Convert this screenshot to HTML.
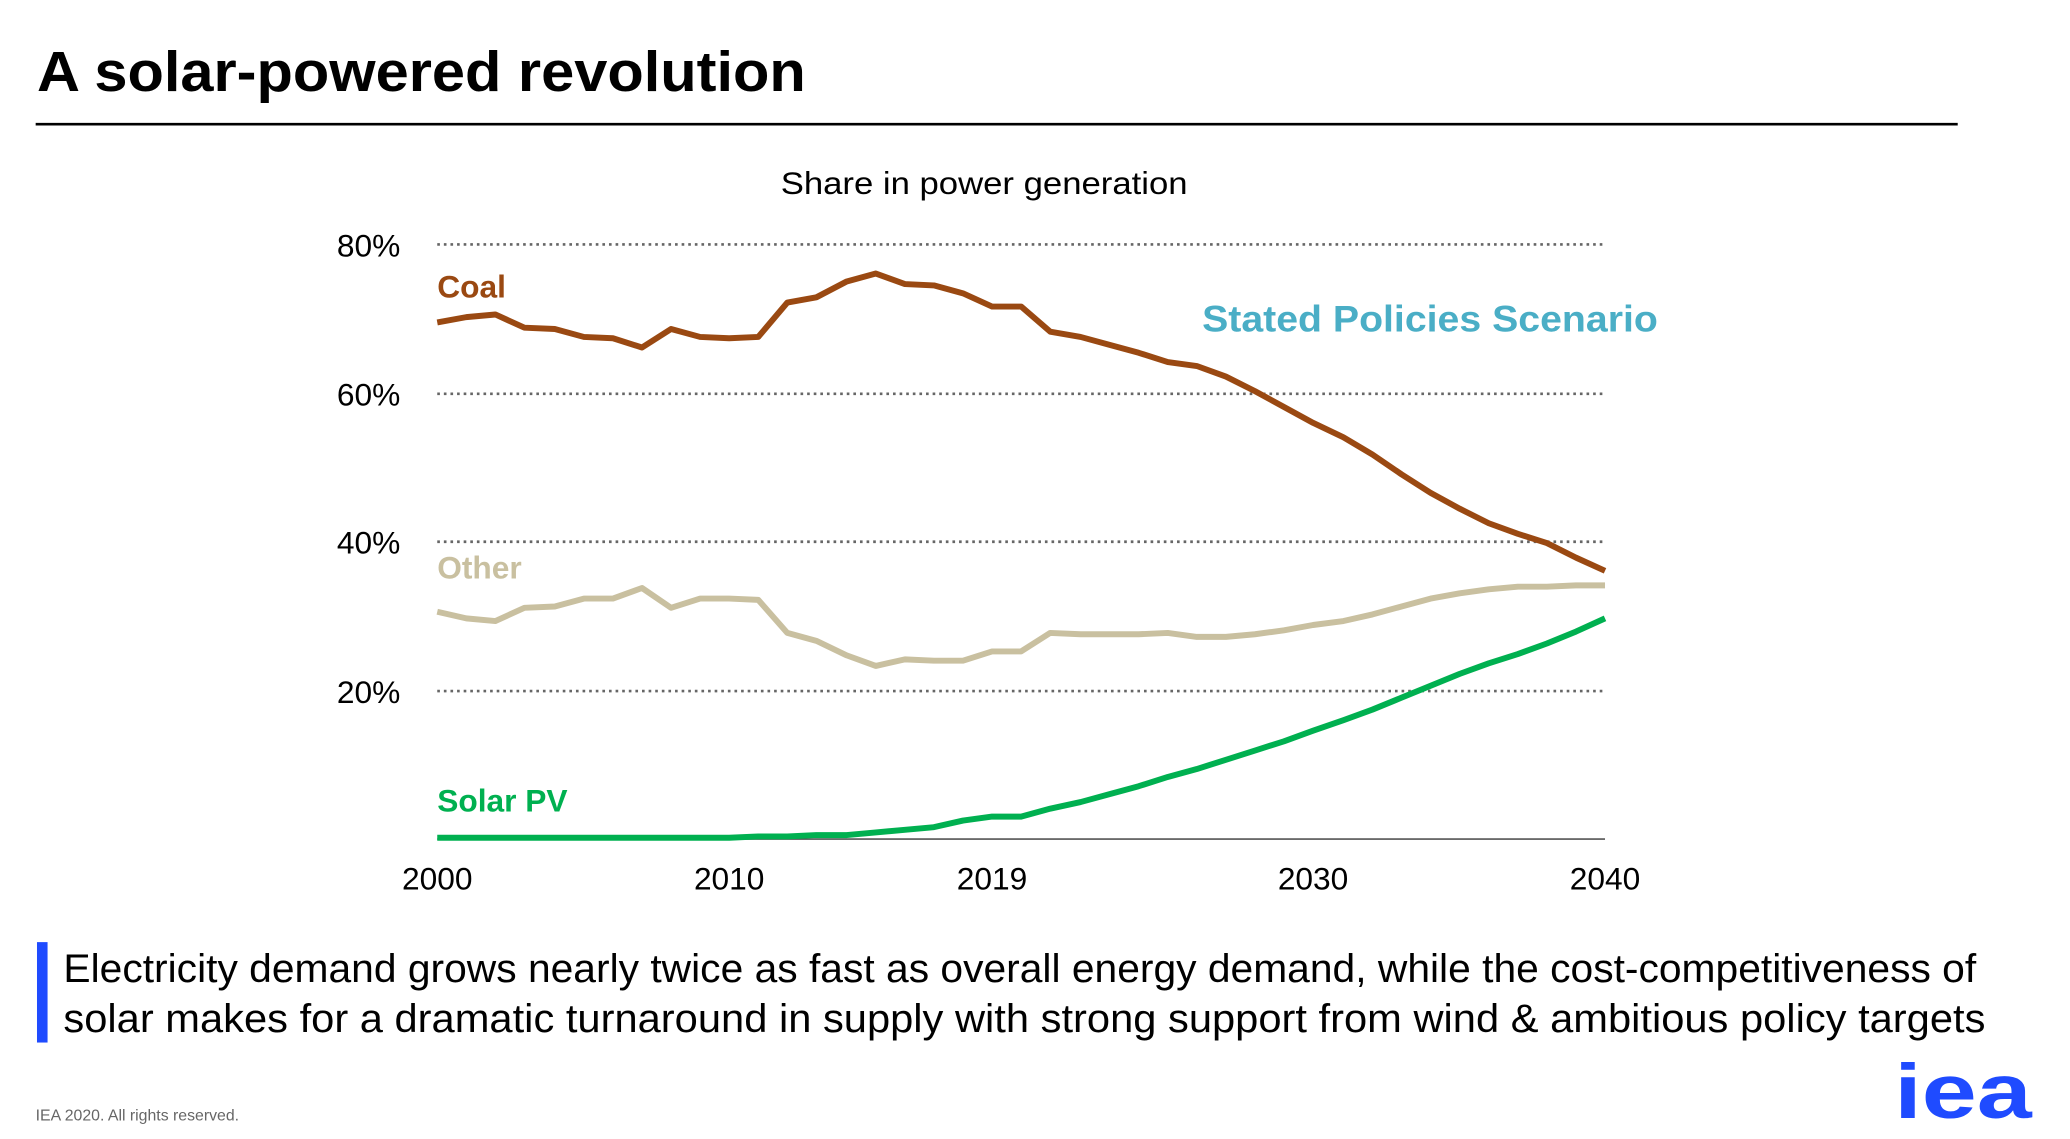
<!DOCTYPE html>
<html><head><meta charset="utf-8"><style>html,body{margin:0;padding:0;background:#fff}svg{display:block}</style></head>
<body>
<svg width="2070" height="1139" viewBox="0 0 1567 862" preserveAspectRatio="none" xmlns="http://www.w3.org/2000/svg" font-family="Liberation Sans, sans-serif">
<rect width="1567" height="862" fill="#fff"/>
<text x="28" y="69" font-size="43" font-weight="bold" fill="#000" textLength="582" lengthAdjust="spacingAndGlyphs">A solar-powered revolution</text>
<line x1="27" y1="94" x2="1482" y2="94" stroke="#000" stroke-width="2"/>
<text x="745" y="147" font-size="24" text-anchor="middle" fill="#000" textLength="308" lengthAdjust="spacingAndGlyphs">Share in power generation</text>
<g stroke="#666" stroke-width="2" stroke-dasharray="2,3">
<line x1="331" y1="185" x2="1215" y2="185"/><line x1="331" y1="298" x2="1215" y2="298"/><line x1="331" y1="410" x2="1215" y2="410"/><line x1="331" y1="523" x2="1215" y2="523"/>
</g>
<line x1="331" y1="635" x2="1215" y2="635" stroke="#555" stroke-width="1.3"/>
<g font-size="24" text-anchor="end" fill="#000">
<text x="303" y="194">80%</text><text x="303" y="307">60%</text><text x="303" y="419">40%</text><text x="303" y="532">20%</text>
</g>
<g font-size="24" text-anchor="middle" fill="#000">
<text x="331" y="673">2000</text><text x="552" y="673">2010</text><text x="751" y="673">2019</text><text x="994" y="673">2030</text><text x="1215" y="673">2040</text>
</g>
<g fill="none" stroke-width="4.5" stroke-linejoin="round">
<polyline stroke="#9a4912" points="331,244 353,240 375,238 397,248 420,249 442,255 464,256 486,263 508,249 530,255 552,256 574,255 596,229 618,225 641,213 663,207 685,215 707,216 729,222 751,232 773,232 795,251 818,255 840,261 862,267 884,274 906,277 928,285 950,296 972,308 994,320 1017,331 1039,344 1061,359 1083,373 1105,385 1127,396 1149,404 1171,411 1193,422 1215,432"/>
<polyline stroke="#c9c0a0" points="331,463 353,468 375,470 397,460 420,459 442,453 464,453 486,445 508,460 530,453 552,453 574,454 596,479 618,485 641,496 663,504 685,499 707,500 729,500 751,493 773,493 795,479 818,480 840,480 862,480 884,479 906,482 928,482 950,480 972,477 994,473 1017,470 1039,465 1061,459 1083,453 1105,449 1127,446 1149,444 1171,444 1193,443 1215,443"/>
<polyline stroke="#00b050" points="331,634 552,634 574,633 596,633 618,632 641,632 663,630 685,628 707,626 729,621 751,618 773,618 795,612 818,607 840,601 862,595 884,588 906,582 928,575 950,568 972,561 994,553 1017,545 1039,537 1061,528 1083,519 1105,510 1127,502 1149,495 1171,487 1193,478 1215,468"/>
</g>
<text x="331" y="225" font-size="24" font-weight="bold" fill="#9a4912">Coal</text>
<text x="331" y="438" font-size="24" font-weight="bold" fill="#c9c0a0">Other</text>
<text x="331" y="614" font-size="24" font-weight="bold" fill="#00b050">Solar PV</text>
<text x="910" y="251" font-size="28" font-weight="bold" fill="#4aaec6" textLength="345" lengthAdjust="spacingAndGlyphs">Stated Policies Scenario</text>
<rect x="28" y="713" width="8" height="76" fill="#1f4bff"/>
<text x="48" y="743" font-size="30" fill="#000" textLength="1448" lengthAdjust="spacingAndGlyphs">Electricity demand grows nearly twice as fast as overall energy demand, while the cost-competitiveness of</text>
<text x="48" y="781" font-size="30" fill="#000" textLength="1455" lengthAdjust="spacingAndGlyphs">solar makes for a dramatic turnaround in supply with strong support from wind &amp; ambitious policy targets</text>
<text x="27" y="848" font-size="12" fill="#666">IEA 2020. All rights reserved.</text>
<text x="1434" y="846" font-size="58" font-weight="bold" fill="#1f4bff" textLength="104" lengthAdjust="spacingAndGlyphs">iea</text>
</svg>
</body></html>
